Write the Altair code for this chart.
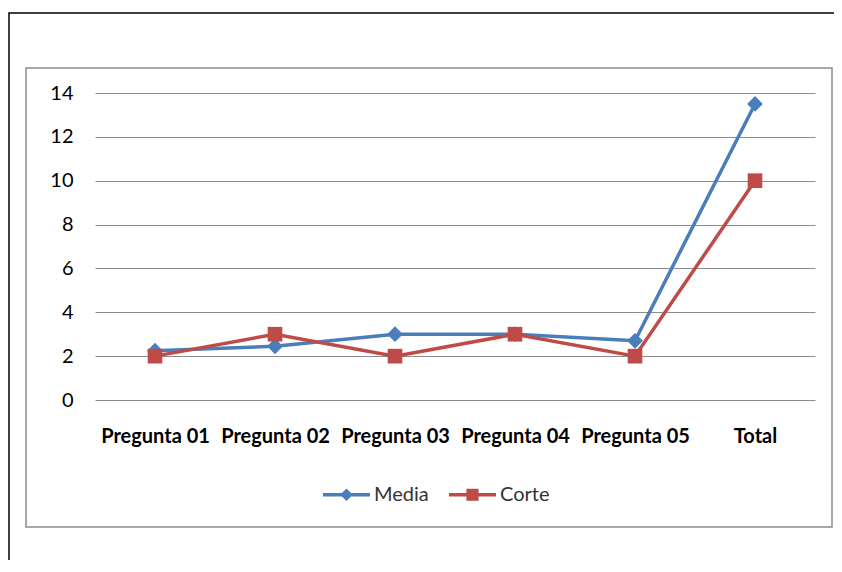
import altair as alt
import pandas as pd

categories = ["Pregunta 01", "Pregunta 02", "Pregunta 03", "Pregunta 04", "Pregunta 05", "Total"]
series_names = ["Media", "Corte"]
media_values = [2.25, 2.45, 3.0, 3.0, 2.7, 13.5]
corte_values = [2.0, 3.0, 2.0, 3.0, 2.0, 10.0]
y_ticks = [0, 2, 4, 6, 8, 10, 12, 14]

colors = ["#4A7EBB", "#BE4B48"]
legend_paths = [
    "M-1,-0.07H1V0.07H-1Z M0,-0.27L0.27,0L0,0.27L-0.27,0Z",
    "M-1,-0.07H1V0.07H-1Z M-0.26,-0.26H0.26V0.26H-0.26Z",
]

df = pd.DataFrame(
    {
        "Pregunta": categories * 2,
        "Serie": [series_names[0]] * len(categories) + [series_names[1]] * len(categories),
        "Valor": media_values + corte_values,
    }
)

FONT = "Lato"

x_enc = alt.X(
    "Pregunta:N",
    sort=categories,
    title=None,
    axis=alt.Axis(
        labelAngle=0,
        labelFont=FONT,
        labelFontSize=20,
        labelFontWeight="bold",
        labelColor="#000000",
        labelPadding=26,
        ticks=False,
        domain=False,
        grid=False,
    ),
)
y_enc = alt.Y(
    "Valor:Q",
    title=None,
    scale=alt.Scale(domain=[0, 14], nice=False),
    axis=alt.Axis(
        values=y_ticks,
        labelFont=FONT,
        labelFontSize=20,
        labelColor="#000000",
        labelPadding=22,
        ticks=False,
        domain=False,
        grid=True,
        gridColor="#8C8C8C",
        gridWidth=1.2,
    ),
)

base = alt.Chart(df)

frame_df = pd.DataFrame({"k": [0]})
outer_frame = alt.Chart(frame_df).mark_rect(
    filled=False, stroke="#000000", strokeWidth=1.5
).encode(
    x=alt.value(-86), x2=alt.value(900), y=alt.value(-80), y2=alt.value(700)
)
inner_frame = alt.Chart(frame_df).mark_rect(
    filled=False, stroke="#8C8C8C", strokeWidth=1.5
).encode(
    x=alt.value(-69), x2=alt.value(737), y=alt.value(-25), y2=alt.value(434)
)

series_layers = []
for name, color, shape, size in [
    (series_names[0], colors[0], "diamond", 250),
    (series_names[1], colors[1], "square", 215),
]:
    sub = base.transform_filter(alt.datum.Serie == name)
    series_layers.append(sub.mark_line(strokeWidth=3.5, color=color).encode(x=x_enc, y=y_enc))
    series_layers.append(
        sub.mark_point(shape=shape, filled=True, size=size, color=color, opacity=1).encode(
            x=x_enc, y=y_enc
        )
    )

legend_layer = base.mark_point(filled=True, size=0).encode(
    x=x_enc,
    y=y_enc,
    color=alt.Color(
        "Serie:N",
        scale=alt.Scale(domain=series_names, range=colors),
        legend=alt.Legend(
            title=None,
            orient="none",
            direction="horizontal",
            legendX=228,
            legendY=378,
        ),
    ),
    shape=alt.Shape(
        "Serie:N",
        scale=alt.Scale(domain=series_names, range=legend_paths),
    ),
)

chart = (
    alt.layer(outer_frame, inner_frame, *series_layers, legend_layer)
    .properties(
        width=720,
        height=307,
        autosize=alt.AutoSizeParams(type="none"),
        padding={"left": 87, "top": 85, "right": 19, "bottom": 160},
        background="white",
    )
    .configure_view(stroke=None)
    .configure_legend(
        symbolSize=2209,
        symbolStrokeWidth=0,
        symbolOpacity=1,
        labelFont=FONT,
        labelFontSize=20,
        labelColor="#333333",
        labelOffset=4,
        columnPadding=20,
        padding=0,
    )
)

chart.save("out.html", embed_options={"renderer": "svg", "actions": False})
